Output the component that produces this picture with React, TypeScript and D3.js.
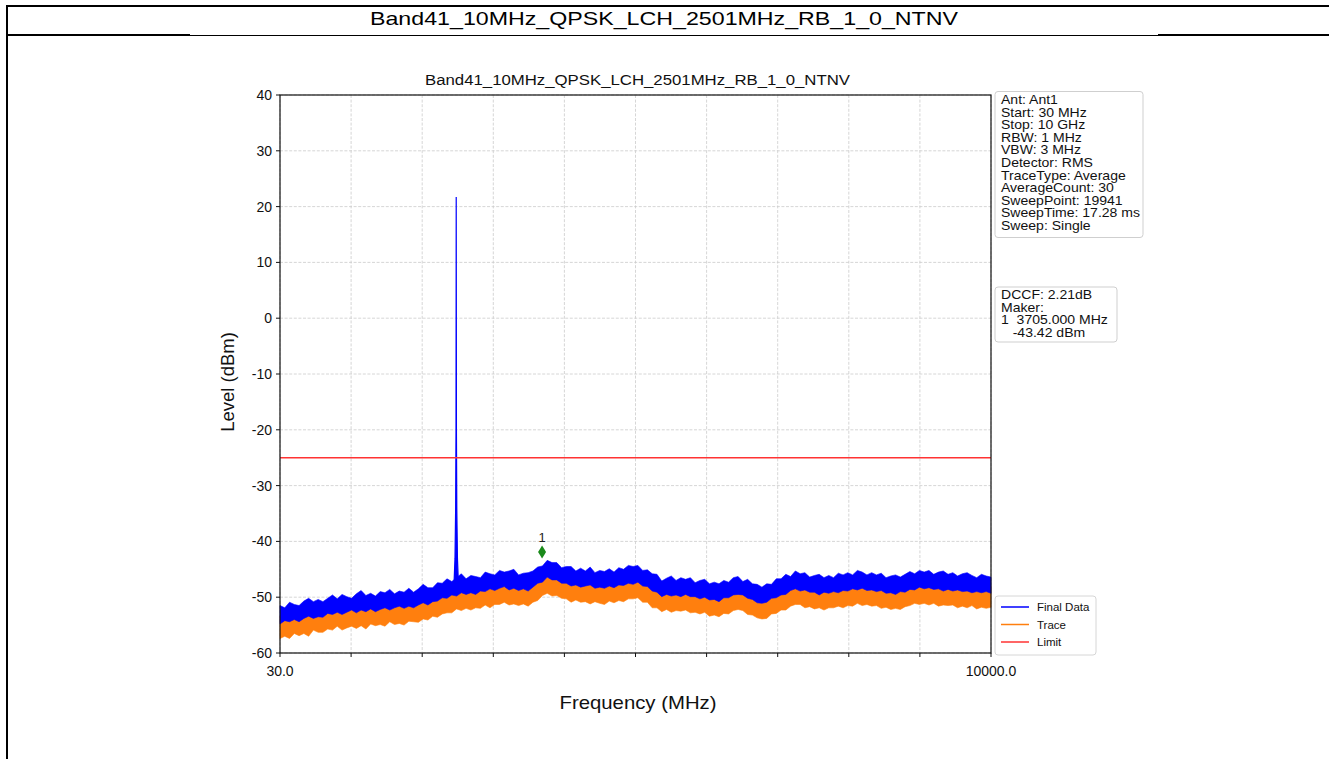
import React from "react";
import * as d3 from "d3";

const TITLE = "Band41_10MHz_QPSK_LCH_2501MHz_RB_1_0_NTNV";
const FREQ_START = 30;
const FREQ_STOP = 10000;
const Y_TICKS = [40, 30, 20, 10, 0, -10, -20, -30, -40, -50, -60];
const X_TICKS = [30, 1027, 2024, 3021, 4018, 5015, 6012, 7009, 8006, 9003, 10000];
const X_TICK_LABELS = ["30.0", "", "", "", "", "", "", "", "", "", "10000.0"];
const LIMIT = -25;

// Final Data band (upper / lower envelope, dBm), 150 samples evenly spaced 30..10000 MHz
const FINAL_HI = [
  -51.5, -51.9, -50.9, -51.3, -51.5, -50.7, -50.2, -50.8, -50.4, -50.8,
  -50.2, -49.6, -50.3, -49.5, -49.9, -50.2, -49.4, -48.8, -49.7, -49.3,
  -49.8, -49.0, -49.2, -48.6, -49.4, -48.9, -49.1, -48.4, -49.1, -48.5,
  -47.7, -48.3, -48.3, -47.4, -47.5, -46.7, -47.2, -46.5, -45.8, -46.7,
  -46.1, -46.3, -46.5, -45.5, -45.8, -46.0, -45.2, -45.5, -45.3, -45.0,
  -46.0, -45.7, -45.6, -45.3, -44.6, -44.4, -43.4, -43.8, -43.8, -44.7,
  -44.5, -44.5, -45.3, -44.8, -45.3, -44.6, -45.6, -45.2, -45.4, -44.9,
  -45.5, -44.7, -45.0, -44.3, -44.5, -44.3, -45.2, -45.1, -45.8, -45.9,
  -47.1, -46.6, -46.2, -47.0, -46.5, -46.8, -46.5, -47.4, -47.0, -46.8,
  -47.6, -47.3, -47.6, -47.0, -47.3, -46.5, -46.3, -47.2, -46.8, -47.6,
  -47.7, -48.2, -47.6, -47.7, -46.7, -46.7, -45.9, -46.3, -45.3, -45.8,
  -45.6, -46.4, -46.1, -45.9, -46.5, -46.1, -46.5, -45.7, -46.0, -45.6,
  -46.0, -45.2, -45.5, -46.0, -45.6, -46.0, -45.7, -46.5, -46.2, -46.0,
  -46.4, -45.9, -45.4, -45.8, -45.2, -45.5, -45.2, -45.9, -45.5, -45.3,
  -45.9, -45.6, -46.2, -45.8, -45.6, -46.1, -46.5, -45.9, -46.2, -46.4,
];
const FINAL_LO = [
  -54.8, -54.2, -54.4, -54.0, -54.4, -53.8, -53.4, -53.8, -53.5, -53.6,
  -52.9, -53.1, -52.7, -53.1, -52.7, -52.3, -52.8, -52.3, -52.6, -52.1,
  -52.6, -52.2, -51.9, -52.3, -51.9, -51.6, -52.0, -51.6, -51.9, -51.4,
  -51.0, -51.4, -50.8, -50.7, -50.1, -50.2, -49.6, -49.8, -49.2, -49.5,
  -49.2, -49.5, -48.9, -49.0, -48.5, -48.8, -48.4, -48.1, -48.7, -48.4,
  -48.8, -48.5, -48.9, -48.2, -47.5, -47.3, -46.4, -46.9, -46.9, -47.5,
  -47.5, -48.0, -47.8, -48.2, -48.0, -47.8, -48.4, -48.2, -48.4, -48.0,
  -48.3, -47.8, -47.9, -47.5, -47.7, -47.3, -48.0, -48.1, -48.9, -49.1,
  -49.9, -49.5, -49.8, -49.6, -49.9, -49.5, -49.9, -49.9, -50.3, -50.0,
  -50.5, -50.4, -50.8, -50.1, -50.1, -49.6, -49.5, -49.6, -50.2, -50.4,
  -51.0, -51.1, -50.9, -50.2, -50.1, -49.6, -49.5, -48.8, -48.5, -48.9,
  -48.7, -49.1, -49.1, -49.6, -49.1, -49.3, -49.0, -49.2, -48.8, -48.9,
  -48.5, -48.7, -48.4, -48.8, -48.7, -49.0, -48.8, -49.3, -49.2, -49.5,
  -49.0, -49.1, -48.6, -48.7, -48.2, -48.5, -48.3, -48.6, -48.5, -48.9,
  -48.6, -48.9, -48.7, -49.0, -48.9, -49.2, -49.0, -49.2, -49.0, -49.3,
];
// Trace band
const TRACE_HI = [
  -53.4, -53.3, -53.1, -53.0, -52.8, -52.7, -52.6, -52.4, -52.3, -52.1,
  -52.0, -51.8, -51.7, -51.6, -51.6, -51.5, -51.4, -51.3, -51.3, -51.2,
  -51.1, -51.1, -51.0, -50.9, -50.8, -50.8, -50.7, -50.6, -50.4, -50.3,
  -50.1, -50.0, -49.7, -49.4, -49.1, -48.8, -48.5, -48.4, -48.3, -48.2,
  -48.1, -48.0, -47.9, -47.7, -47.6, -47.4, -47.3, -47.1, -47.2, -47.3,
  -47.4, -47.5, -47.6, -47.0, -46.5, -45.9, -45.3, -45.6, -45.9, -46.1,
  -46.4, -46.7, -46.8, -46.8, -46.9, -46.9, -47.0, -47.1, -47.1, -47.0,
  -46.9, -46.7, -46.6, -46.5, -46.3, -46.2, -46.7, -47.1, -47.6, -48.0,
  -48.5, -48.5, -48.5, -48.5, -48.5, -48.5, -48.6, -48.8, -48.9, -49.0,
  -49.2, -49.3, -49.4, -49.1, -48.8, -48.5, -48.2, -48.6, -48.9, -49.3,
  -49.6, -50.0, -49.6, -49.2, -48.8, -48.5, -48.1, -47.7, -47.3, -47.5,
  -47.7, -47.8, -48.0, -48.2, -48.1, -48.0, -47.9, -47.8, -47.7, -47.6,
  -47.5, -47.4, -47.3, -47.4, -47.6, -47.7, -47.8, -47.9, -48.1, -48.2,
  -48.0, -47.8, -47.5, -47.3, -47.1, -47.2, -47.3, -47.3, -47.4, -47.5,
  -47.5, -47.6, -47.7, -47.7, -47.8, -47.8, -47.9, -47.9, -48.0, -48.0,
];
const TRACE_LO = [
  -57.4, -57.0, -57.4, -56.5, -56.9, -56.5, -57.0, -55.9, -56.3, -56.3,
  -55.7, -55.9, -55.2, -55.9, -55.5, -55.2, -55.6, -55.1, -55.7, -54.8,
  -55.1, -54.9, -55.2, -54.4, -54.9, -54.7, -55.0, -54.3, -54.4, -54.5,
  -53.9, -54.1, -53.4, -53.6, -53.0, -52.8, -52.8, -52.1, -52.4, -52.0,
  -52.3, -51.9, -52.0, -51.4, -51.9, -51.3, -51.3, -50.9, -51.4, -51.2,
  -51.5, -51.2, -51.6, -50.9, -50.6, -49.7, -49.3, -49.8, -49.7, -50.2,
  -50.3, -50.9, -50.5, -50.9, -50.8, -51.2, -50.8, -51.1, -51.3, -50.7,
  -51.0, -50.6, -50.8, -50.3, -50.3, -50.1, -50.9, -50.9, -51.9, -51.9,
  -52.6, -52.2, -52.7, -52.4, -52.5, -52.3, -52.8, -52.7, -53.0, -52.7,
  -53.4, -53.2, -53.5, -52.9, -53.0, -52.4, -52.2, -52.4, -53.1, -53.2,
  -53.7, -53.9, -53.8, -53.0, -52.9, -52.3, -52.3, -51.6, -51.3, -51.3,
  -51.9, -51.7, -52.1, -51.9, -52.3, -51.9, -51.9, -51.6, -51.9, -51.5,
  -51.6, -51.1, -51.5, -51.3, -51.6, -51.5, -52.0, -51.8, -52.2, -52.0,
  -52.2, -51.7, -51.5, -51.1, -51.3, -51.1, -51.4, -51.1, -51.6, -51.4,
  -51.5, -51.4, -51.9, -51.6, -51.9, -51.5, -52.1, -51.8, -52.0, -51.8,
];
// Carrier spike of the Final Data trace
const SPIKE_FREQ = [2466, 2484, 2493, 2498, 2501, 2504, 2509, 2518, 2536];
const SPIKE_LEVEL = [-49, -43, -34, -20, 21.7, -20, -34, -43, -49];
const TRACE_SPIKE_FREQ = [2480, 2501, 2522];
const TRACE_SPIKE_LEVEL = [-52, -48.3, -52];

const MARKER_FREQ = 3705;
const MARKER_PLOT_LEVEL = -41.9;
const MARKER_LABEL = "1";

const INFO_LINES = [
  "Ant: Ant1",
  "Start: 30 MHz",
  "Stop: 10 GHz",
  "RBW: 1 MHz",
  "VBW: 3 MHz",
  "Detector: RMS",
  "TraceType: Average",
  "AverageCount: 30",
  "SweepPoint: 19941",
  "SweepTime: 17.28 ms",
  "Sweep: Single",
];
const MARKER_LINES = ["DCCF: 2.21dB", "Maker:", "1  3705.000 MHz", "   -43.42 dBm"];
const LEGEND_ITEMS = [
  { name: "Final Data", color: "#0000ff" },
  { name: "Trace", color: "#ff7f0e" },
  { name: "Limit", color: "#ff3333" },
];

const FONT = "'Liberation Sans', Arial, Helvetica, sans-serif";

export default function App() {
  const left = 280, right = 991, top = 95, bottom = 653;
  const x = d3.scaleLinear().domain([FREQ_START, FREQ_STOP]).range([left, right]);
  const y = d3.scaleLinear().domain([-60, 40]).range([bottom, top]);
  const n = FINAL_HI.length;
  const freqAt = (i: number) => FREQ_START + (i * (FREQ_STOP - FREQ_START)) / (n - 1);
  const idx = d3.range(n);

  const area = (hi: number[], lo: number[]) =>
    d3
      .area<number>()
      .x((i) => x(freqAt(i)))
      .y0((i) => y(lo[i]))
      .y1((i) => y(hi[i]))(idx) as string;

  const line = d3
    .line<[number, number]>()
    .x((d) => x(d[0]))
    .y((d) => y(d[1]));

  const spike = line(SPIKE_FREQ.map((f, i) => [f, SPIKE_LEVEL[i]])) as string;
  const tspike = line(TRACE_SPIKE_FREQ.map((f, i) => [f, TRACE_SPIKE_LEVEL[i]])) as string;

  const mx = x(MARKER_FREQ);
  const my = y(MARKER_PLOT_LEVEL);

  return (
    <svg
      width={1329}
      height={759}
      style={{ position: "absolute", left: 0, top: 0, background: "#fff" }}
      fontFamily={FONT}
    >
      {/* document table frame */}
      <line x1={7} y1={6} x2={1329} y2={6} stroke="#000" strokeWidth={2} />
      <line x1={7} y1={5} x2={7} y2={759} stroke="#000" strokeWidth={2} />
      <line x1={7} y1={35} x2={190} y2={35} stroke="#000" strokeWidth={2} />
      <line x1={190} y1={35.5} x2={1158} y2={35.5} stroke="#000" strokeWidth={1} />
      <line x1={1158} y1={35} x2={1329} y2={35} stroke="#000" strokeWidth={2} />
      <text
        x={664}
        y={25}
        fontSize={19}
        textAnchor="middle"
        textLength={588}
        lengthAdjust="spacingAndGlyphs"
        fill="#000"
      >
        {TITLE}
      </text>

      {/* grid */}
      {X_TICKS.map((t) => (
        <line
          key={"gx" + t}
          x1={x(t)}
          x2={x(t)}
          y1={top}
          y2={bottom}
          stroke="#cccccc"
          strokeWidth={0.8}
          strokeDasharray="3,1.6"
        />
      ))}
      {Y_TICKS.map((t) => (
        <line
          key={"gy" + t}
          x1={left}
          x2={right}
          y1={y(t)}
          y2={y(t)}
          stroke="#cccccc"
          strokeWidth={0.8}
          strokeDasharray="3,1.6"
        />
      ))}

      {/* data */}
      <path d={area(TRACE_HI, TRACE_LO)} fill="#ff7f0e" stroke="#ff7f0e" strokeWidth={0.6} />
      <path d={tspike} fill="none" stroke="#ff7f0e" strokeWidth={1} />
      <path d={area(FINAL_HI, FINAL_LO)} fill="#0000ff" stroke="#0000ff" strokeWidth={0.6} />
      <path d={spike} fill="#0000ff" stroke="#0000ff" strokeWidth={1.2} />
      <line x1={left} x2={right} y1={y(LIMIT)} y2={y(LIMIT)} stroke="#ff3333" strokeWidth={1.4} />

      {/* marker */}
      <path
        d={`M${mx},${my - 6.5} L${mx + 4},${my} L${mx},${my + 6.5} L${mx - 4},${my} Z`}
        fill="#1a8a1a"
      />
      <text x={mx} y={my - 10} fontSize={13} textAnchor="middle" fill="#222">
        {MARKER_LABEL}
      </text>

      {/* axes frame */}
      <rect x={left} y={top} width={right - left} height={bottom - top} fill="none" stroke="#111" strokeWidth={1.2} />
      {Y_TICKS.map((t) => (
        <g key={"ty" + t}>
          <line x1={left - 4} x2={left} y1={y(t)} y2={y(t)} stroke="#111" strokeWidth={1} />
          <text x={left - 8} y={y(t) + 5} fontSize={14} textAnchor="end" fill="#111">
            {t}
          </text>
        </g>
      ))}
      {X_TICKS.map((t, i) => (
        <g key={"tx" + t}>
          <line x1={x(t)} x2={x(t)} y1={bottom} y2={bottom + 4} stroke="#111" strokeWidth={1} />
          <text x={x(t)} y={bottom + 23} fontSize={14} textAnchor="middle" fill="#111">
            {X_TICK_LABELS[i]}
          </text>
        </g>
      ))}
      <text
        x={638}
        y={709}
        fontSize={19}
        textAnchor="middle"
        textLength={157}
        lengthAdjust="spacingAndGlyphs"
        fill="#111"
      >
        Frequency (MHz)
      </text>
      <text
        transform={`translate(234, ${(top + bottom) / 2 + 8}) rotate(-90)`}
        fontSize={18.5}
        textAnchor="middle"
        fill="#111"
      >
        Level (dBm)
      </text>
      <text
        x={(left + right) / 2 + 2}
        y={85}
        fontSize={15.5}
        textAnchor="middle"
        textLength={425}
        lengthAdjust="spacingAndGlyphs"
        fill="#111"
      >
        {TITLE}
      </text>

      {/* info box */}
      <rect x={995} y={91.5} width={148} height={146} rx={3} fill="#fff" stroke="#cfcfcf" />
      <g transform="translate(1001,0) scale(1.08,1)">
        {INFO_LINES.map((s, i) => (
          <text key={s} x={0} y={104 + i * 12.6} fontSize={13} fill="#111">
            {s}
          </text>
        ))}
      </g>
      <rect x={995} y={287} width={122} height={55} rx={3} fill="#fff" stroke="#cfcfcf" />
      <g transform="translate(1001,0) scale(1.08,1)">
        {MARKER_LINES.map((s, i) => (
          <text key={s} x={0} y={299 + i * 12.6} fontSize={13} fill="#111" style={{ whiteSpace: "pre" }}>
            {s}
          </text>
        ))}
      </g>

      {/* legend */}
      <rect x={995} y={596} width={101} height={59} rx={3} fill="#fff" stroke="#d6d6d6" />
      {LEGEND_ITEMS.map((it, i) => (
        <g key={it.name}>
          <line x1={1001} x2={1029} y1={607 + i * 17.5} y2={607 + i * 17.5} stroke={it.color} strokeWidth={1.5} />
          <text x={1037} y={611 + i * 17.5} fontSize={11.5} fill="#111">
            {it.name}
          </text>
        </g>
      ))}
    </svg>
  );
}
